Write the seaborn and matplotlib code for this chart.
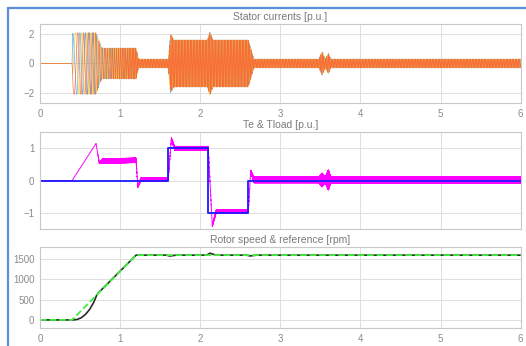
import numpy as np
import pandas as pd
import seaborn as sns
import matplotlib.pyplot as plt
from matplotlib.patches import Rectangle

# stator currents: envelope + electrical frequency
cur_t = [0, 0.40, 0.41, 0.70, 0.76, 0.78, 1.20, 1.23, 1.60, 1.63, 1.67, 2.09, 2.12, 2.16, 2.60, 2.67,
         3.48, 3.52, 3.56, 3.60, 3.63, 3.67, 6.0]
cur_amp = [0, 0, 2.1, 2.1, 1.2, 1.05, 1.05, 0.3, 0.3, 2.0, 1.6, 1.6, 2.15, 1.6, 1.6, 0.3,
           0.3, 0.8, 0.3, 0.7, 0.3, 0.3, 0.3]
freq_t = [0, 0.40, 0.72, 1.20, 6.0]
freq_hz = [8, 8, 25, 54, 54]
phases = ["ia", "ib", "ic"]
phase_colors = ["#4d9de0", "#f2cf3a", "#ff5f30"]

# electromagnetic torque (mean + ripple) and load torque
te_t = [0, 0.40, 0.70, 0.74, 0.78, 1.20, 1.22, 1.26, 1.60, 1.64, 1.68, 2.10, 2.15, 2.20, 2.60, 2.63, 2.67,
        3.48, 3.52, 3.56, 3.60, 3.63, 3.66, 6.0]
te_mean = [0, 0, 1.15, 0.55, 0.6, 0.63, -0.2, 0.04, 0.04, 1.3, 1.0, 1.0, -1.4, -0.95, -0.95, 0.3, 0.02,
           0.02, 0.02, 0.02, 0.02, 0.02, 0.02, 0.02]
te_rip = [0, 0, 0, 0.02, 0.07, 0.07, 0.02, 0.05, 0.05, 0.03, 0.06, 0.06, 0.03, 0.05, 0.05, 0.03, 0.09,
          0.09, 0.22, 0.09, 0.32, 0.09, 0.1, 0.11]
tl_t = [0, 1.6, 1.6, 2.1, 2.1, 2.6, 2.6, 6.0]
tl_val = [0, 0, 1, 1, -1, -1, 0, 0]

# rotor speed and reference
ref_t = [0, 0.4, 1.2, 6.0]
ref_rpm = [0, 0, 1600, 1600]
spd_t = [0, 0.42, 0.47, 0.52, 0.57, 0.62, 0.67, 0.71, 0.74, 1.2, 1.58, 1.62, 1.7, 2.08, 2.12, 2.2,
         2.58, 2.62, 2.7, 6.0]
spd_rpm = [0, 0, 15, 60, 140, 260, 430, 620, 690, 1600, 1600, 1578, 1600, 1600, 1648, 1600,
           1600, 1580, 1600, 1600]

sns.set_style("whitegrid", {"grid.color": "#dedede", "axes.edgecolor": "#c8c8c8"})
plt.rcParams['font.family'] = ['Liberation Sans', 'DejaVu Sans']

t = np.linspace(0, 6, 60001)
dt = t[1] - t[0]
amp = np.interp(t, cur_t, cur_amp)
theta = 2 * np.pi * np.cumsum(np.interp(t, freq_t, freq_hz)) * dt
rows = []
for k, ph in enumerate(phases):
    rows.append(pd.DataFrame({"t": t, "i": amp * np.sin(theta - 2 * np.pi * k / 3), "phase": ph}))
cur = pd.concat(rows, ignore_index=True)

te = np.interp(t, te_t, te_mean) + np.interp(t, te_t, te_rip) * np.sin(2 * np.pi * 330 * t)

fig = plt.figure(figsize=(5.26, 3.46), dpi=100)
ax1 = fig.add_axes([0.076, 0.702, 0.914, 0.229])
ax2 = fig.add_axes([0.076, 0.338, 0.914, 0.280])
ax3 = fig.add_axes([0.076, 0.052, 0.914, 0.234])

sns.lineplot(data=cur, x="t", y="i", hue="phase", palette=phase_colors, estimator=None,
             linewidth=0.5, alpha=0.85, legend=False, ax=ax1)
ax1.set_ylim(-2.7, 2.7)
ax1.set_yticks([-2, 0, 2])

sns.lineplot(x=t, y=te, color="#ff00ff", linewidth=0.7, estimator=None, ax=ax2)
sns.lineplot(x=tl_t, y=tl_val, color="#1a1aff", linewidth=1.3, estimator=None, sort=False, ax=ax2)
ax2.set_ylim(-1.5, 1.5)
ax2.set_yticks([-1, 0, 1])

sns.lineplot(x=spd_t, y=spd_rpm, color="#2a2a2a", linewidth=1.2, estimator=None, ax=ax3)
sns.lineplot(x=ref_t, y=ref_rpm, color="#3cf03c", linewidth=1.3, linestyle="--", estimator=None, ax=ax3)
ax3.set_ylim(-200, 1800)
ax3.set_yticks([0, 500, 1000, 1500])

titles = ["Stator currents [p.u.]", "Te & Tload [p.u.]", "Rotor speed & reference [rpm]"]
for ax, ttl in zip([ax1, ax2, ax3], titles):
    ax.set_xlim(0, 6)
    ax.set_xticks(range(7))
    ax.set_xlabel("")
    ax.set_ylabel("")
    ax.set_title(ttl, fontsize=7.5, color="#7a7a7a", pad=3)
    ax.tick_params(labelsize=7, colors="#8a8a8a", length=2, width=0.5, pad=2)
    ax.grid(True, linewidth=0.7)
    for s in ax.spines.values():
        s.set_linewidth(0.8)
ax2.tick_params(axis="x", labelbottom=False)

fig.patches.append(Rectangle((0.015, -0.1), 1.2, 1.077, transform=fig.transFigure,
                             fill=False, edgecolor="#5b8ed6", linewidth=1.6))
fig.savefig("out.png", dpi=100)
